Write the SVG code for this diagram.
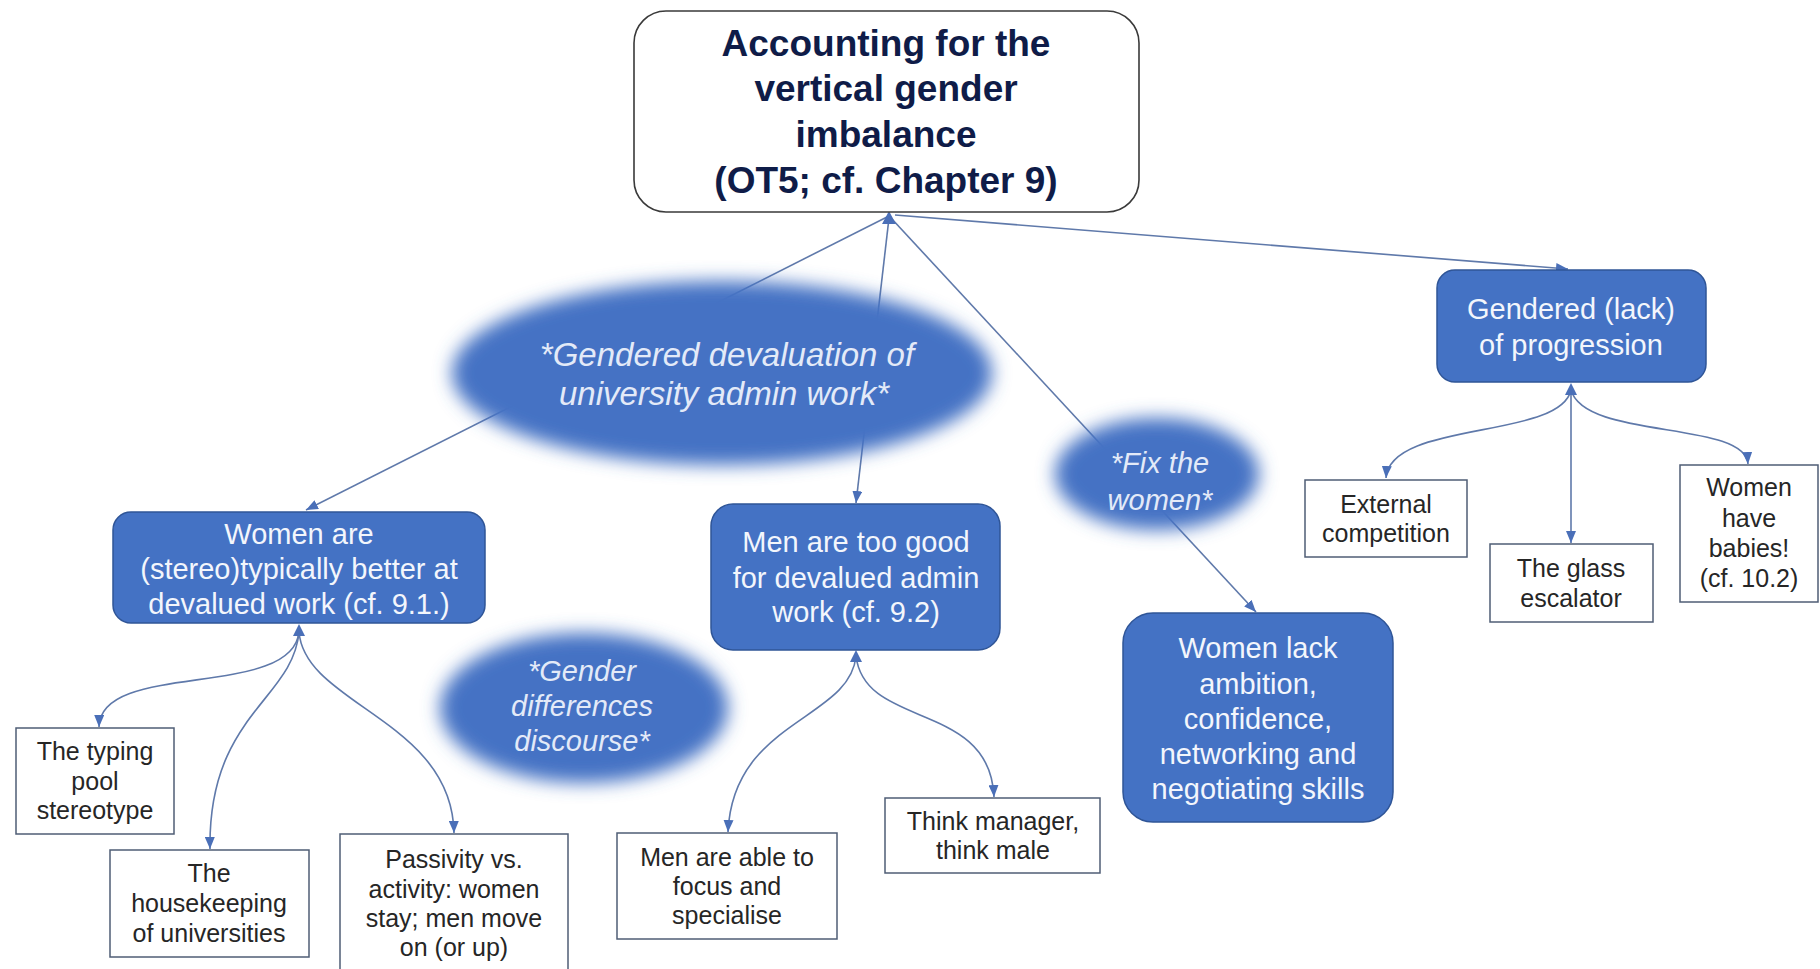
<svg xmlns="http://www.w3.org/2000/svg" width="1820" height="969" viewBox="0 0 1820 969">
<style>
text{font-family:"Liberation Sans",Arial,sans-serif;text-anchor:middle}
.title{font-size:37px;font-weight:bold;fill:#0f1c48}
.blue{fill:#4472c4;stroke:#2f5597;stroke-width:1.5}
.bt{font-size:29px;fill:#f3f6fc}
.et{font-style:italic;fill:#e3eaf8}
.wbox{fill:#ffffff;stroke:#4f5d75;stroke-width:1.5}
.wt{font-size:25px;fill:#262626}
.conn{fill:none;stroke:#5f79aa;stroke-width:1.6}
.ah{fill:#4a6fb8}
.ell{fill:#4472c4}
</style>
<defs>
<marker id="arr" markerUnits="userSpaceOnUse" markerWidth="12" markerHeight="10" refX="12" refY="5" orient="auto">
<path d="M0,0 L12,5 L0,10 z" fill="#4a6fb8"/>
</marker>
<filter id="soft" x="-25%" y="-25%" width="150%" height="150%">
<feGaussianBlur stdDeviation="9"/>
</filter>
</defs>
<rect width="1820" height="969" fill="#ffffff"/>

<g id="connectors">
<path class="conn" d="M889,216 L306,510" marker-end="url(#arr)"/>
<path class="conn" d="M889,218 L856,503" marker-end="url(#arr)"/>
<path class="conn" d="M891,218 L1256,612" marker-end="url(#arr)"/>
<path class="conn" d="M895,215 L1568,269" marker-end="url(#arr)"/>
<polygon class="ah" points="889,211 882,224 896,224"/>

<path class="conn" d="M1571,390 C1560,440 1390,420 1386,478" marker-end="url(#arr)"/>
<path class="conn" d="M1571,390 L1571,543" marker-end="url(#arr)"/>
<path class="conn" d="M1571,390 C1585,440 1745,420 1748,464" marker-end="url(#arr)"/>
<polygon class="ah" points="1571,383 1565,395 1577,395"/>

<path class="conn" d="M299,632 C292,700 100,660 99,727" marker-end="url(#arr)"/>
<path class="conn" d="M299,632 C293,700 208,715 210,849" marker-end="url(#arr)"/>
<path class="conn" d="M299,632 C305,705 452,720 454,833" marker-end="url(#arr)"/>
<polygon class="ah" points="299,624 293,636 305,636"/>

<path class="conn" d="M856,656 C850,720 733,720 728,832" marker-end="url(#arr)"/>
<path class="conn" d="M856,656 C865,730 990,700 994,797" marker-end="url(#arr)"/>
<polygon class="ah" points="856,650 850,662 862,662"/>
</g>

<g id="top">
<rect x="634" y="11" width="505" height="201" rx="32" fill="#ffffff" stroke="#3a3a3a" stroke-width="1.6"/>
<text class="title" x="886" y="56">Accounting for the</text>
<text class="title" x="886" y="101">vertical gender</text>
<text class="title" x="886" y="147">imbalance</text>
<text class="title" x="886" y="193">(OT5; cf. Chapter 9)</text>
</g>

<g id="ell-devaluation">
<ellipse class="ell" cx="722" cy="373" rx="270" ry="92" filter="url(#soft)"/>
<text class="et" font-size="33" x="727" y="366">*Gendered devaluation of</text>
<text class="et" font-size="33" x="724" y="405">university admin work*</text>
</g>

<g id="ell-discourse">
<ellipse class="ell" cx="584" cy="708" rx="144" ry="75" filter="url(#soft)"/>
<text class="et" font-size="29" x="582" y="681">*Gender</text>
<text class="et" font-size="29" x="582" y="716">differences</text>
<text class="et" font-size="29" x="582" y="751">discourse*</text>
</g>

<g id="ell-fix">
<ellipse class="ell" cx="1157" cy="474" rx="102" ry="56" filter="url(#soft)"/>
<text class="et" font-size="29" x="1160" y="473">*Fix the</text>
<text class="et" font-size="29" x="1160" y="510">women*</text>
</g>

<g id="women-better">
<rect class="blue" x="113" y="512" width="372" height="111" rx="18"/>
<text class="bt" x="299" y="544">Women are</text>
<text class="bt" x="299" y="579">(stereo)typically better at</text>
<text class="bt" x="299" y="614">devalued work (cf. 9.1.)</text>
</g>

<g id="men-too-good">
<rect class="blue" x="711" y="504" width="289" height="146" rx="22"/>
<text class="bt" x="856" y="552">Men are too good</text>
<text class="bt" x="856" y="588">for devalued admin</text>
<text class="bt" x="856" y="622">work (cf. 9.2)</text>
</g>

<g id="women-lack">
<rect class="blue" x="1123" y="613" width="270" height="209" rx="30"/>
<text class="bt" x="1258" y="658">Women lack</text>
<text class="bt" x="1258" y="694">ambition,</text>
<text class="bt" x="1258" y="729">confidence,</text>
<text class="bt" x="1258" y="764">networking and</text>
<text class="bt" x="1258" y="799">negotiating skills</text>
</g>

<g id="progression">
<rect class="blue" x="1437" y="270" width="269" height="112" rx="18"/>
<text class="bt" x="1571" y="319">Gendered (lack)</text>
<text class="bt" x="1571" y="355">of progression</text>
</g>

<g id="external">
<rect class="wbox" x="1305" y="480" width="162" height="77"/>
<text class="wt" x="1386" y="513">External</text>
<text class="wt" x="1386" y="542">competition</text>
</g>

<g id="glass">
<rect class="wbox" x="1490" y="544" width="163" height="78"/>
<text class="wt" x="1571" y="577">The glass</text>
<text class="wt" x="1571" y="607">escalator</text>
</g>

<g id="babies">
<rect class="wbox" x="1680" y="465" width="138" height="137"/>
<text class="wt" x="1749" y="496">Women</text>
<text class="wt" x="1749" y="527">have</text>
<text class="wt" x="1749" y="557">babies!</text>
<text class="wt" x="1749" y="587">(cf. 10.2)</text>
</g>

<g id="typing">
<rect class="wbox" x="16" y="728" width="158" height="106"/>
<text class="wt" x="95" y="760">The typing</text>
<text class="wt" x="95" y="790">pool</text>
<text class="wt" x="95" y="819">stereotype</text>
</g>

<g id="housekeeping">
<rect class="wbox" x="110" y="850" width="199" height="107"/>
<text class="wt" x="209" y="882">The</text>
<text class="wt" x="209" y="912">housekeeping</text>
<text class="wt" x="209" y="942">of universities</text>
</g>

<g id="passivity">
<rect class="wbox" x="340" y="834" width="228" height="140"/>
<text class="wt" x="454" y="868">Passivity vs.</text>
<text class="wt" x="454" y="898">activity: women</text>
<text class="wt" x="454" y="927">stay; men move</text>
<text class="wt" x="454" y="956">on (or up)</text>
</g>

<g id="men-focus">
<rect class="wbox" x="617" y="833" width="220" height="106"/>
<text class="wt" x="727" y="866">Men are able to</text>
<text class="wt" x="727" y="895">focus and</text>
<text class="wt" x="727" y="924">specialise</text>
</g>

<g id="think-manager">
<rect class="wbox" x="885" y="798" width="215" height="75"/>
<text class="wt" x="993" y="830">Think manager,</text>
<text class="wt" x="993" y="859">think male</text>
</g>
</svg>
